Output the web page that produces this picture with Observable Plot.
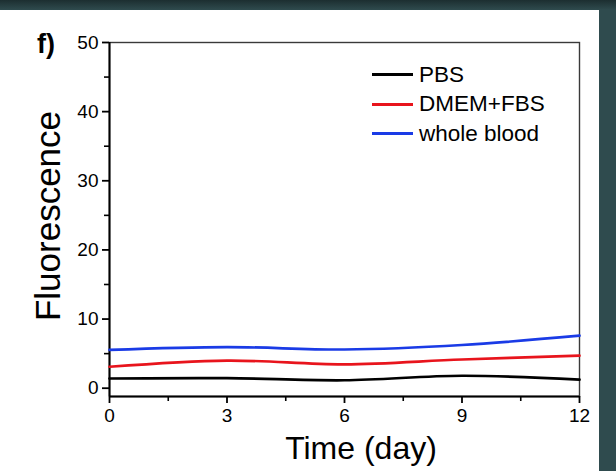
<!DOCTYPE html>
<html><head><meta charset="utf-8">
<script src="https://cdn.jsdelivr.net/npm/d3@7"></script>
<script src="https://cdn.jsdelivr.net/npm/@observablehq/plot@0.6"></script>
<style>
html,body{margin:0;padding:0;}
body{width:616px;height:471px;overflow:hidden;position:relative;background:linear-gradient(#1c2e30,#2f4b4e 10px);font-family:"Liberation Sans",Arial,sans-serif;color:#000;}
#panel{position:absolute;left:0;top:10px;width:599px;height:461px;background:#fff;}
#chart{position:absolute;left:0;top:0;}
#chart svg{overflow:visible;background:transparent;}
.lab{position:absolute;white-space:nowrap;line-height:1;}
#panelLabel{left:37px;top:31px;font-size:27px;font-weight:bold;}
#ylab{left:47px;top:216px;font-size:35px;transform:translate(-50%,-50%) rotate(-90deg);}
#xlab{left:361px;top:432px;font-size:32px;transform:translateX(-50%);}
#legend{position:absolute;left:372px;top:60px;}
.lrow{display:flex;align-items:center;height:29.5px;font-size:22.5px;}
.lrow span.sw{display:inline-block;width:41px;height:3px;margin-right:6px;}
</style></head>
<body>
<div id="panel"></div>
<div id="chart"></div>
<div class="lab" id="panelLabel">f)</div>
<div class="lab" id="ylab">Fluorescence</div>
<div class="lab" id="xlab">Time (day)</div>
<div id="legend"></div>
<script>
const days = [0, 3, 6, 9, 12];
const seriesNames = ["PBS", "DMEM+FBS", "whole blood"];
const pbs = [1.4, 1.45, 1.15, 1.8, 1.25];
const dmem = [3.1, 4.0, 3.45, 4.15, 4.7];
const blood = [5.55, 5.95, 5.6, 6.25, 7.6];
const seriesColors = ["#000000", "#e8141c", "#1a3be6"];
const yTicks = [0, 10, 20, 30, 40, 50];
const yMinorTicks = [5, 15, 25, 35, 45];
const xTicks = [0, 3, 6, 9, 12];
const xMinorTicks = [1.5, 4.5, 7.5, 10.5];
const xDomain = [0, 12];
const yDomain = [-1.2, 50];

const seriesValues = [pbs, dmem, blood];
const rows = [];
seriesNames.forEach((s, i) => days.forEach((d, j) => rows.push({series: s, day: d, value: seriesValues[i][j]})));

const chart = Plot.plot({
  width: 616,
  height: 471,
  marginLeft: 109,
  marginRight: 37,
  marginTop: 42,
  marginBottom: 75,
  style: {fontFamily: "Liberation Sans, Arial, sans-serif", fontSize: "19px", color: "#000", background: "transparent"},
  x: {domain: xDomain},
  y: {domain: yDomain},
  color: {domain: seriesNames, range: seriesColors},
  marks: [
    Plot.frame({stroke: "#3a3a3a", strokeWidth: 1.4}),
    Plot.ruleX([xDomain[0]], {stroke: "#000", strokeWidth: 2}),
    Plot.ruleY([yDomain[0]], {stroke: "#000", strokeWidth: 2}),
    Plot.axisY(yTicks, {tickSize: 7, tickPadding: 4, fontSize: 19, label: null, strokeWidth: 1.8, stroke: "#000"}),
    Plot.axisY(yMinorTicks, {tickSize: 5, tickFormat: () => "", label: null, strokeWidth: 1.6, stroke: "#000"}),
    Plot.axisX(xTicks, {tickSize: 7, tickPadding: 5, fontSize: 19, label: null, strokeWidth: 1.8, stroke: "#000"}),
    Plot.axisX(xMinorTicks, {tickSize: 5, tickFormat: () => "", label: null, strokeWidth: 1.6, stroke: "#000"}),
    Plot.line(rows, {x: "day", y: "value", z: "series", stroke: "series", curve: "catmull-rom", strokeWidth: 2.7})
  ]
});
document.getElementById("chart").appendChild(chart);

const legend = document.getElementById("legend");
seriesNames.forEach((s, i) => {
  const row = document.createElement("div");
  row.className = "lrow";
  const sw = document.createElement("span");
  sw.className = "sw";
  sw.style.background = seriesColors[i];
  const t = document.createElement("span");
  t.textContent = s;
  row.appendChild(sw);
  row.appendChild(t);
  legend.appendChild(row);
});
</script>
</body></html>
